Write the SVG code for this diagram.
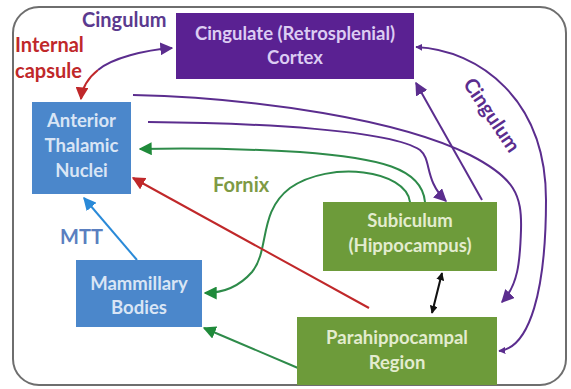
<svg xmlns="http://www.w3.org/2000/svg" width="571" height="389" viewBox="0 0 571 389">
<defs>
<style>
.box{stroke:none}
.t{font-family:Lato,"Open Sans","Liberation Sans",sans-serif;font-size:18.5px;font-weight:bold;text-anchor:middle}
.lbl{font-family:Lato,"Open Sans","Liberation Sans",sans-serif;font-weight:bold;font-size:20px}
.c{fill:none;stroke-width:2}
.pu{stroke:#5b2d8e}
.gr{stroke:#2e8b4a}
.rd{stroke:#c0282a}
.bl{stroke:#2a8ad8}
.bk{stroke:#111}
</style>
<marker id="aPu" viewBox="0 0 10 10" refX="9" refY="5" markerWidth="6.5" markerHeight="6.5" orient="auto-start-reverse" markerUnits="strokeWidth"><path d="M0,0 L10,5 L0,10 z" fill="#5b2d8e"/></marker>
<marker id="aPuS" viewBox="0 0 10 10" refX="9" refY="5" markerWidth="3.5" markerHeight="3.5" orient="auto-start-reverse" markerUnits="strokeWidth"><path d="M0,0 L10,5 L0,10 z" fill="#5b2d8e"/></marker>
<marker id="aGr" viewBox="0 0 10 10" refX="9" refY="5" markerWidth="6.5" markerHeight="6.5" orient="auto" markerUnits="strokeWidth"><path d="M0,0 L10,5 L0,10 z" fill="#1f8a3a"/></marker>
<marker id="aRd" viewBox="0 0 10 10" refX="9" refY="5" markerWidth="6.5" markerHeight="6.5" orient="auto" markerUnits="strokeWidth"><path d="M0,0 L10,5 L0,10 z" fill="#c0282a"/></marker>
<marker id="aBl" viewBox="0 0 10 10" refX="9" refY="5" markerWidth="6.5" markerHeight="6.5" orient="auto" markerUnits="strokeWidth"><path d="M0,0 L10,5 L0,10 z" fill="#2a8ad8"/></marker>
<marker id="aBk" viewBox="0 0 10 10" refX="9" refY="5" markerWidth="4" markerHeight="4" orient="auto-start-reverse" markerUnits="strokeWidth"><path d="M0,0 L10,5 L0,10 z" fill="#111"/></marker>
</defs>
<rect x="0" y="0" width="571" height="389" fill="#ffffff"/>
<rect x="13" y="7" width="553" height="378" rx="26" ry="26" fill="#ffffff" stroke="#6e6e6e" stroke-width="2"/>

<g id="connectors">
<path class="c pu" d="M172,48 C145,50 112,58 98,70" marker-start="url(#aPu)"/>
<path class="c rd" d="M98,70 C88,78 82,88 81,99" marker-end="url(#aRd)"/>
<path class="c pu" d="M133,95 C260,98 400,120 470,155 C515,178 522,195 521,230 C520,262 518,285 502,302" marker-end="url(#aPu)"/>
<path class="c pu" d="M148,122 C260,123 390,130 420,150 C432,160 424,180 446,201" marker-end="url(#aPu)"/>
<path class="c pu" d="M482,200 L416,83" marker-end="url(#aPu)"/>
<path class="c pu" d="M416,47 C480,50 546,100 546,200 C546,290 530,348 499,351" marker-start="url(#aPuS)" marker-end="url(#aPuS)"/>
<path class="c gr" d="M425,202 C422,168 380,158 300,152 C230,148 180,148 140,149" marker-end="url(#aGr)"/>
<path class="c gr" d="M410,202 C406,170 330,160 290,188 C258,212 270,250 252,272 C238,288 222,293 205,293" marker-end="url(#aGr)"/>
<path class="c rd" d="M369,308 L133,178" marker-end="url(#aRd)"/>
<path class="c bl" d="M137,260 L84,198" marker-end="url(#aBl)"/>
<path class="c gr" d="M298,368 L204,328" marker-end="url(#aGr)"/>
<path class="c bk" d="M442,273 L432,313" marker-start="url(#aBk)" marker-end="url(#aBk)"/>
</g>

<g id="cingulate">
<rect class="box" x="176" y="13" width="238" height="66" fill="#5a2192"/>
<text class="t" x="295" y="40" fill="#dccdf2">Cingulate (Retrosplenial)</text>
<text class="t" x="295" y="64" fill="#dccdf2">Cortex</text>
</g>
<g id="anterior-thalamic">
<rect class="box" x="32" y="102" width="99" height="92" fill="#4b87cb"/>
<text class="t" x="81.5" y="127" fill="#d9e5f5">Anterior</text>
<text class="t" x="81.5" y="152" fill="#d9e5f5">Thalamic</text>
<text class="t" x="81.5" y="177" fill="#d9e5f5">Nuclei</text>
</g>
<g id="mammillary">
<rect class="box" x="76" y="260" width="126" height="67" fill="#4b87cb"/>
<text class="t" x="139" y="290" fill="#d9e5f5">Mammillary</text>
<text class="t" x="139" y="314" fill="#d9e5f5">Bodies</text>
</g>
<g id="subiculum">
<rect class="box" x="323" y="202" width="174" height="69" fill="#6d9b3a"/>
<text class="t" x="410" y="227" fill="#e3eccf">Subiculum</text>
<text class="t" x="410" y="252" fill="#e3eccf">(Hippocampus)</text>
</g>
<g id="parahippocampal">
<rect class="box" x="297" y="317" width="200" height="68" fill="#6d9b3a"/>
<text class="t" x="397" y="344" fill="#e3eccf" font-size="19.5">Parahippocampal</text>
<text class="t" x="397" y="369" fill="#e3eccf" font-size="19.5">Region</text>
</g>

<g id="labels">
<text class="lbl" x="82" y="27" fill="#5b3a8f">Cingulum</text>
<text class="lbl" x="15" y="52" fill="#c0282a">Internal</text>
<text class="lbl" x="15" y="78" fill="#c0282a">capsule</text>
<text class="lbl" x="213" y="192" fill="#7e9a44" font-size="21">Fornix</text>
<text class="lbl" x="60" y="244" fill="#5a7fc0">MTT</text>
<text class="lbl" x="0" y="0" fill="#5b2d8e" text-anchor="middle" transform="translate(486,119) rotate(56)">Cingulum</text>
</g>
</svg>
